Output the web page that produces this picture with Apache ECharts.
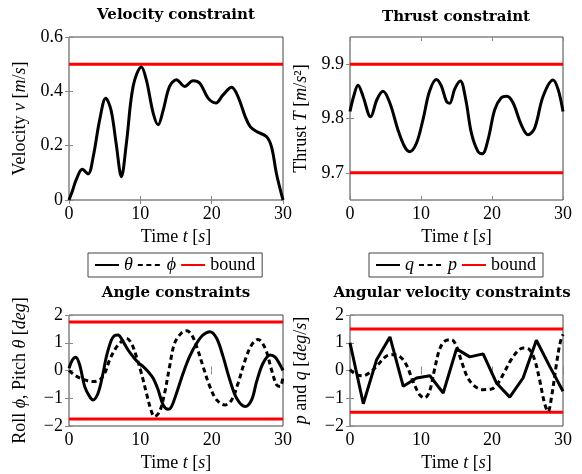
<!DOCTYPE html>
<html><head><meta charset="utf-8">
<script src="https://cdn.jsdelivr.net/npm/echarts@6/dist/echarts.min.js"></script>
<style>html,body{margin:0;padding:0;background:#fff}#c{width:582px;height:474px}</style>
</head><body><div id="c"></div>
<script>
// ---- data ----
const xTicks = [0, 10, 20, 30];
const velTicks = [0, 0.2, 0.4, 0.6];
const thrustTicks = [9.7, 9.8, 9.9];
const angTicks = [-2, -1, 0, 1, 2];

const tVel = [0,0.5,1.0,1.87,2.67,3.4,4.3,5.15,5.9,6.6,7.35,8.05,9.0,10.15,10.86,11.8,12.5,13.2,14.1,15.07,16.2,17.4,18.34,19.5,20.6,21.6,22.8,23.7,24.7,25.4,26.3,27.7,28.4,29.1,30];
const vel = [0,0.035,0.074,0.113,0.096,0.16,0.295,0.375,0.33,0.21,0.086,0.21,0.42,0.49,0.44,0.32,0.277,0.33,0.418,0.443,0.418,0.439,0.43,0.375,0.357,0.387,0.415,0.38,0.307,0.27,0.252,0.233,0.195,0.095,0];
const velBound = 0.5;

const tThr = [0,0.52,1.13,1.83,2.9,3.8,4.65,5.6,6.76,7.7,8.4,9.34,10.28,11.2,12.16,12.86,13.57,14.04,14.74,15.54,16.3,17.1,18.03,18.64,19.44,20.38,21.3,22.1,22.96,24.1,25.07,26.0,27.2,28.6,29.3,30];
const thr = [9.813,9.841,9.861,9.841,9.803,9.835,9.850,9.829,9.779,9.748,9.739,9.754,9.798,9.850,9.872,9.86,9.832,9.828,9.854,9.869,9.835,9.773,9.739,9.735,9.761,9.816,9.838,9.841,9.829,9.789,9.770,9.782,9.841,9.871,9.854,9.813];
const thrBounds = [9.7, 9.9];

const tTheta = [0,0.47,0.94,1.5,2.2,2.9,3.37,4.07,4.77,5.24,5.94,6.41,6.88,7.58,8.28,8.98,9.69,10.4,11.1,11.8,12.5,13.2,13.9,14.37,15.07,16.0,16.9,17.9,18.8,19.75,20.7,21.6,22.55,23.5,24.7,25.6,26.3,27.2,28.2,28.9,29.6,30];
const theta = [0.08,0.38,0.48,0.2,-0.58,-0.94,-1.06,-0.82,-0.1,0.5,1.1,1.26,1.28,1.04,0.74,0.5,0.29,0.14,-0.04,-0.28,-0.7,-1.24,-1.4,-1.3,-0.82,-0.1,0.5,0.98,1.28,1.4,1.16,0.5,-0.34,-1.0,-1.3,-1.06,-0.4,0.26,0.56,0.48,0.2,0.0];
const tPhi = [0,1.0,2.2,3.37,4.3,5.0,5.7,6.4,7.1,8.05,8.75,9.45,10.15,10.86,11.56,12.0,12.7,13.4,14.1,14.8,15.8,16.5,17.2,17.9,18.8,19.75,20.7,21.85,22.8,23.7,24.7,25.6,26.5,27.5,28.4,29.1,29.6,30];
const phi = [0,-0.2,-0.34,-0.4,-0.34,-0.1,0.38,0.74,0.98,1.16,0.98,0.5,-0.1,-0.82,-1.48,-1.66,-1.48,-0.82,0.14,0.98,1.36,1.43,1.28,0.86,0.14,-0.58,-1.06,-1.24,-1.06,-0.46,0.38,0.92,1.12,0.8,0.02,-0.52,-0.58,-0.2];
const angBound = 1.75;

const tQ = [0,1.875,3.75,5.625,7.5,9.375,11.25,13.125,15,16.875,18.75,20.625,22.5,24.375,26.25,28.125,30];
const q = [1.0,-1.2,0.39,1.21,-0.57,-0.27,-0.19,-0.81,0.78,0.49,0.6,-0.45,-0.96,-0.27,1.09,0.15,-0.75];
const tP = [0,0.9,1.83,3.0,3.94,5.1,6.06,7.0,7.93,8.87,9.8,10.5,11.2,11.9,12.6,13.3,14.3,15.0,15.7,16.6,17.6,18.7,19.9,20.85,21.8,22.7,23.7,24.4,25.3,26.0,26.7,27.4,27.9,28.4,29.1,29.6,30];
const p = [0.03,-0.15,-0.19,-0.03,0.21,0.51,0.57,0.51,0.21,-0.39,-0.87,-0.99,-0.75,0.03,0.75,1.05,1.11,0.87,0.33,-0.27,-0.57,-0.69,-0.67,-0.45,-0.03,0.39,0.72,0.81,0.75,0.39,-0.33,-1.18,-1.48,-0.93,0.27,1.0,1.3];
const rateBound = 1.5;

// ---- styling / building ----
const FONT = 'Liberation Serif';
const TFONT = 'DejaVu Serif';
const FS = 18;
const FRAME = '#444';
const TICK = '#888';
const ital = { fontStyle: 'italic', fontFamily: FONT, fontSize: FS, color: '#000' };
const minus = v => (v < 0 ? '\u2212' + Math.abs(v) : String(v));
const zip = (a, b) => a.map((t, i) => [t, b[i]]);

const grids = [
  { left: 69, top: 37, width: 214, height: 163 },
  { left: 350, top: 37, width: 213, height: 163 },
  { left: 69, top: 315, width: 214, height: 111 },
  { left: 350, top: 315, width: 213, height: 111 }
].map(g => Object.assign({ show: true, borderColor: FRAME, borderWidth: 1, backgroundColor: 'transparent' }, g));

const xAxis = [], yAxis = [];
function addX(gi) {
  const base = { type: 'value', gridIndex: gi, min: 0, max: 30, interval: 10,
    splitLine: { show: false }, axisLine: { show: false } };
  xAxis.push(Object.assign({}, base, {
    position: 'bottom',
    axisTick: { inside: true, length: 4, lineStyle: { color: TICK }, customValues: xTicks },
    axisLabel: { fontFamily: FONT, fontSize: FS, color: '#000', margin: 5, customValues: xTicks },
    name: 'Time {i|t} [{i|s}]', nameLocation: 'middle', nameGap: 28,
    nameTextStyle: { fontFamily: FONT, fontSize: FS, color: '#000', rich: { i: ital } }
  }));
  xAxis.push(Object.assign({}, base, {
    position: 'top',
    axisTick: { inside: true, length: 4, lineStyle: { color: TICK }, customValues: xTicks },
    axisLabel: { show: false }
  }));
}
function addY(gi, min, max, ticks, name, nameGap) {
  const base = { type: 'value', gridIndex: gi, min: min, max: max,
    splitLine: { show: false }, axisLine: { show: false } };
  yAxis.push(Object.assign({}, base, {
    position: 'left',
    axisTick: { inside: true, length: 4, lineStyle: { color: TICK }, customValues: ticks },
    axisLabel: { fontFamily: FONT, fontSize: FS, color: '#000', margin: 6, customValues: ticks, formatter: minus },
    name: name, nameLocation: 'middle', nameRotate: 90, nameGap: nameGap,
    nameTextStyle: { fontFamily: FONT, fontSize: FS, color: '#000', rich: { i: ital } }
  }));
  yAxis.push(Object.assign({}, base, {
    position: 'right',
    axisTick: { inside: true, length: 4, lineStyle: { color: TICK }, customValues: ticks },
    axisLabel: { show: false, customValues: ticks }
  }));
}
[0, 1, 2, 3].forEach(addX);
addY(0, 0, 0.6, velTicks, 'Velocity {i|v} [{i|m}/{i|s}]', 40);
addY(1, 9.65, 9.95, thrustTicks, 'Thrust {i|T} [{i|m}/{i|s}\u00B2]', 40);
addY(2, -2, 2, angTicks, 'Roll {i|\u03D5}, Pitch {i|\u03B8} [{i|deg}]', 40);
addY(3, -2, 2, angTicks, '{i|p} and {i|q} [{i|deg}/{i|s}]', 40);

const black = { color: '#000', width: 3 };
const red = { color: '#ff0000', width: 3 };
function line(name, gi, data, style, smooth, dashed) {
  return { type: 'line', name: name, xAxisIndex: 2 * gi, yAxisIndex: 2 * gi, data: data,
    showSymbol: false, symbol: 'none', smooth: smooth, animation: false,
    color: style.color,
    lineStyle: Object.assign({}, style, dashed ? { type: [5, 3.5] } : {}) };
}
function hline(name, gi, val) {
  return line(name, gi, [[0, val], [30, val]], red, false, false);
}

const series = [
  hline('vb', 0, velBound),
  line('v', 0, zip(tVel, vel), black, 0.35, false),
  hline('tb', 1, thrBounds[0]), hline('tb', 1, thrBounds[1]),
  line('T', 1, zip(tThr, thr), black, 0.35, false),
  hline('bound', 2, angBound), hline('bound', 2, -angBound),
  line('\u03B8', 2, zip(tTheta, theta), black, 0.35, false),
  line('\u03D5', 2, zip(tPhi, phi), black, 0.35, true),
  hline('bound', 3, rateBound), hline('bound', 3, -rateBound),
  line('q', 3, zip(tQ, q), black, false, false),
  line('p', 3, zip(tP, p), black, 0.35, true)
];

function legend(names, left) {
  return { data: names, left: left, top: 253, orient: 'horizontal',
    borderColor: FRAME, borderWidth: 1, padding: [3, 7, 3, 6], itemGap: 4,
    itemWidth: 24, itemHeight: 10, selectedMode: false,
    itemStyle: { opacity: 0 },
    formatter: n => (n === 'bound' ? n : '{i|' + n + '}'),
    textStyle: { fontFamily: FONT, fontSize: FS, color: '#000', rich: { i: ital } } };
}

function title(text, x, y) {
  return { type: 'text', x: x, y: y, silent: true,
    style: { text: text, font: 'bold 15px "' + TFONT + '"', fill: '#000', textAlign: 'center', textVerticalAlign: 'middle' } };
}

const chart = echarts.init(document.getElementById('c'), null, { renderer: 'canvas' });
chart.setOption({
  animation: false,
  backgroundColor: '#fff',
  grid: grids,
  xAxis: xAxis,
  yAxis: yAxis,
  legend: [legend(['\u03B8', '\u03D5', 'bound'], 88), legend(['q', 'p', 'bound'], 369)],
  graphic: [
    title('Velocity constraint', 176, 15),
    title('Thrust constraint', 456, 17),
    title('Angle constraints', 176, 293),
    title('Angular velocity constraints', 452, 293)
  ],
  series: series
});
</script>
</body></html>
